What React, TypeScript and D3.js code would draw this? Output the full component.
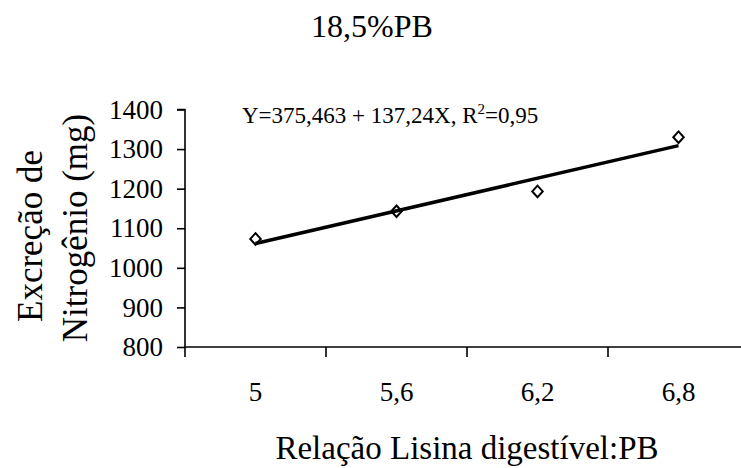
import { axisBottom, axisLeft, line, scaleBand, scaleLinear, select, symbol } from 'd3';
import React, { useEffect, useRef } from 'react';

const categories = ['5', '5,6', '6,2', '6,8'];
const lisinaPB = [5, 5.6, 6.2, 6.8];
const excrecao = [1073, 1143, 1193, 1330];
const yTicks = [800, 900, 1000, 1100, 1200, 1300, 1400];
const intercept = 375.463;
const slope = 137.24;

const FONT = '"Liberation Serif", "Times New Roman", serif';

// Excel-style diamond, close to square
const excelDiamond = {
  draw(context: any, size: number) {
    const r = Math.sqrt(size) / 2;
    context.moveTo(0, -r * 1.1);
    context.lineTo(r, 0);
    context.lineTo(0, r * 1.1);
    context.lineTo(-r, 0);
    context.closePath();
  },
};

const App: React.FC = () => {
  const svgRef = useRef<SVGSVGElement>(null);

  useEffect(() => {
    const svg = select(svgRef.current);
    svg.selectAll('*').remove();

    // Scales
    const xScale = scaleBand<string>().domain(categories).range([185, 749]).padding(0);
    const yScale = scaleLinear().domain([800, 1400]).range([347, 109.5]);
    const cx = (c: string) => (xScale(c) as number) + xScale.bandwidth() / 2;

    // Axes
    const xAxis = axisBottom(xScale).tickSize(0).tickFormat(() => '');
    const xg = svg.append('g').attr('transform', `translate(0, ${yScale(800)})`).call(xAxis);
    xg.select('.domain').attr('stroke', '#000').attr('stroke-width', 1.6).attr('d', `M185,0H741`);
    // tick marks sit between categories
    xg.selectAll('.tick-mark')
      .data([...categories.map((c) => xScale(c) as number), 749])
      .join('line')
      .attr('class', 'tick-mark')
      .attr('x1', (d) => d)
      .attr('x2', (d) => d)
      .attr('y1', 0)
      .attr('y2', 10)
      .attr('stroke', '#000')
      .attr('stroke-width', 1.6);
    svg
      .selectAll('.x-label')
      .data(categories)
      .join('text')
      .attr('class', 'x-label')
      .attr('x', (d) => cx(d))
      .attr('y', 401)
      .attr('text-anchor', 'middle')
      .attr('font-family', FONT)
      .attr('font-size', 27)
      .text((d) => d);

    const yAxis = axisLeft(yScale).tickValues(yTicks).tickSize(8).tickPadding(14).tickFormat((d) => `${d}`);
    const yg = svg.append('g').attr('transform', 'translate(185, 0)').call(yAxis);
    yg.select('.domain').attr('stroke', '#000').attr('stroke-width', 1.6).attr('d', `M-8,${yScale(1400)}H0V${yScale(800)}`);
    yg.selectAll('.tick line').attr('stroke', '#000').attr('stroke-width', 1.6);
    yg.selectAll('.tick text')
      .attr('font-family', FONT)
      .attr('font-size', 27)
      .attr('fill', '#000');

    // Markers
    svg
      .selectAll('.point')
      .data(excrecao)
      .join('path')
      .attr('class', 'point')
      .attr('d', symbol(excelDiamond, 110)())
      .attr('transform', (d, i) => `translate(${cx(categories[i])}, ${yScale(d)})`)
      .attr('fill', '#fff')
      .attr('stroke', '#000')
      .attr('stroke-width', 2);

    // Trend line
    const trend = [lisinaPB[0], lisinaPB[lisinaPB.length - 1]].map((x) => ({
      cat: categories[lisinaPB.indexOf(x)],
      y: intercept + slope * x,
    }));
    const trendLine = line<{ cat: string; y: number }>()
      .x((d) => cx(d.cat))
      .y((d) => yScale(d.y));
    svg
      .append('path')
      .attr('d', trendLine(trend))
      .attr('fill', 'none')
      .attr('stroke', '#000')
      .attr('stroke-width', 3.5);

    // Equation
    const eq = svg
      .append('text')
      .attr('x', 242)
      .attr('y', 123)
      .attr('font-family', FONT)
      .attr('font-size', 23);
    eq.append('tspan').text('Y=375,463 + 137,24X, R');
    eq.append('tspan').attr('font-size', 15).attr('dy', -9).text('2');
    eq.append('tspan').attr('dy', 9).text('=0,95');

    // Titles
    svg
      .append('text')
      .attr('x', 372)
      .attr('y', 37)
      .attr('text-anchor', 'middle')
      .attr('font-family', FONT)
      .attr('font-size', 32)
      .text('18,5%PB');
    svg
      .append('text')
      .attr('x', 467)
      .attr('y', 459)
      .attr('text-anchor', 'middle')
      .attr('font-family', FONT)
      .attr('font-size', 33)
      .text('Relação Lisina digestível:PB');
    svg
      .append('text')
      .attr('transform', 'translate(42, 236) rotate(-90)')
      .attr('text-anchor', 'middle')
      .attr('font-family', FONT)
      .attr('font-size', 35)
      .text('Excreção de');
    svg
      .append('text')
      .attr('transform', 'translate(87, 228) rotate(-90)')
      .attr('text-anchor', 'middle')
      .attr('font-family', FONT)
      .attr('font-size', 35)
      .text('Nitrogênio (mg)');
  }, []);

  return (
    <svg
      ref={svgRef}
      width={741}
      height={468}
      style={{ position: 'absolute', left: 0, top: 0, background: '#fff' }}
    />
  );
};

export default App;
